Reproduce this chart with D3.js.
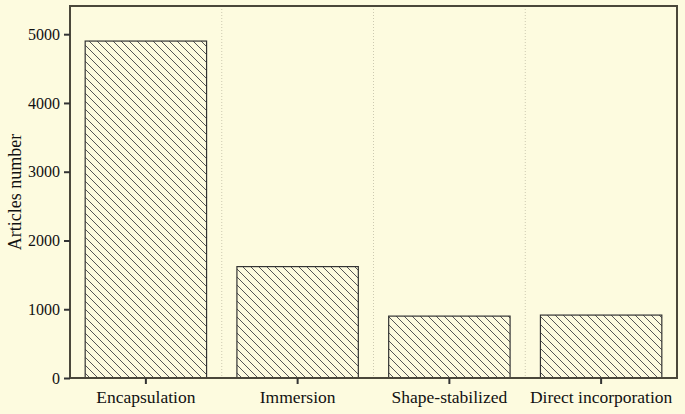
<!DOCTYPE html>
<meta charset="utf-8">
<script src="https://d3js.org/d3.v7.min.js"></script>
<style>
  body { margin: 0; background: #fdfbdf; }
  text { font-family: "Liberation Serif", "Times New Roman", serif; fill: #111; }
</style>
<div id="my_dataviz"></div>
<script>
// data
var categories = ["Encapsulation", "Immersion", "Shape-stabilized", "Direct incorporation"];
var articles = [4900, 1620, 900, 915];
var yTicks = [0, 1000, 2000, 3000, 4000, 5000];

var W = 685, H = 414;
var margin = {top: 6, right: 8, bottom: 36, left: 70},
    width = W - margin.left - margin.right,
    height = H - margin.top - margin.bottom;

var svg = d3.select("#my_dataviz")
  .append("svg")
    .attr("width", W)
    .attr("height", H)
    .style("background", "#fdfbdf");

// hatch pattern
var defs = svg.append("defs");
var pat = defs.append("pattern")
  .attr("id", "hatch")
  .attr("patternUnits", "userSpaceOnUse")
  .attr("width", 8).attr("height", 8);
pat.append("path")
  .attr("d", "M-2,-2 L10,10 M-2,6 L2,10 M6,-2 L10,2")
  .attr("stroke", "#555")
  .attr("stroke-width", 1);

var g = svg.append("g")
  .attr("transform", "translate(" + margin.left + "," + margin.top + ")");

var x = d3.scaleBand()
  .domain(categories)
  .range([0, width])
  .paddingInner(0.2)
  .paddingOuter(0.1);

var y = d3.scaleLinear()
  .domain([0, 5410])
  .range([height, 0]);

// dotted separators between categories
var step = x.step();
g.selectAll(".sep")
  .data(categories.slice(1))
  .enter()
  .append("line")
    .attr("x1", function(d) { return x(d) - x.paddingInner() * step / 2; })
    .attr("x2", function(d) { return x(d) - x.paddingInner() * step / 2; })
    .attr("y1", 0).attr("y2", height)
    .attr("stroke", "#ccc9b0")
    .attr("stroke-width", 1)
    .attr("stroke-dasharray", "1,2");

// bars
g.selectAll(".bar")
  .data(categories)
  .enter()
  .append("rect")
    .attr("x", function(d) { return x(d); })
    .attr("y", function(d, i) { return y(articles[i]); })
    .attr("width", x.bandwidth())
    .attr("height", function(d, i) { return height - y(articles[i]); })
    .attr("fill", "url(#hatch)")
    .attr("stroke", "#333")
    .attr("stroke-width", 1.2);

// frame
g.append("rect")
  .attr("x", 0).attr("y", 0)
  .attr("width", width).attr("height", height)
  .attr("fill", "none")
  .attr("stroke", "#4a473a")
  .attr("stroke-width", 2);

// axes
var yAxis = g.append("g")
  .attr("font-family", "Liberation Serif")
  .attr("font-size", 16)
  .call(d3.axisLeft(y).tickValues(yTicks).tickSize(6).tickPadding(4).tickFormat(d3.format("d")));
yAxis.attr("font-family", "Liberation Serif").attr("font-size", 16);
yAxis.select(".domain").remove();
yAxis.selectAll(".tick line").attr("stroke", "#333").attr("stroke-width", 2);

var xAxis = g.append("g")
  .attr("transform", "translate(0," + height + ")")
  .call(d3.axisBottom(x).tickSize(6).tickPadding(7));
xAxis.attr("font-family", "Liberation Serif").attr("font-size", 17.5);
xAxis.select(".domain").remove();
xAxis.selectAll(".tick line").attr("stroke", "#333").attr("stroke-width", 2);

// y label
svg.append("text")
  .attr("transform", "rotate(-90)")
  .attr("x", -(margin.top + height / 2))
  .attr("y", 21)
  .attr("text-anchor", "middle")
  .attr("font-family", "Liberation Serif")
  .attr("font-size", 18)
  .text("Articles number");
</script>
